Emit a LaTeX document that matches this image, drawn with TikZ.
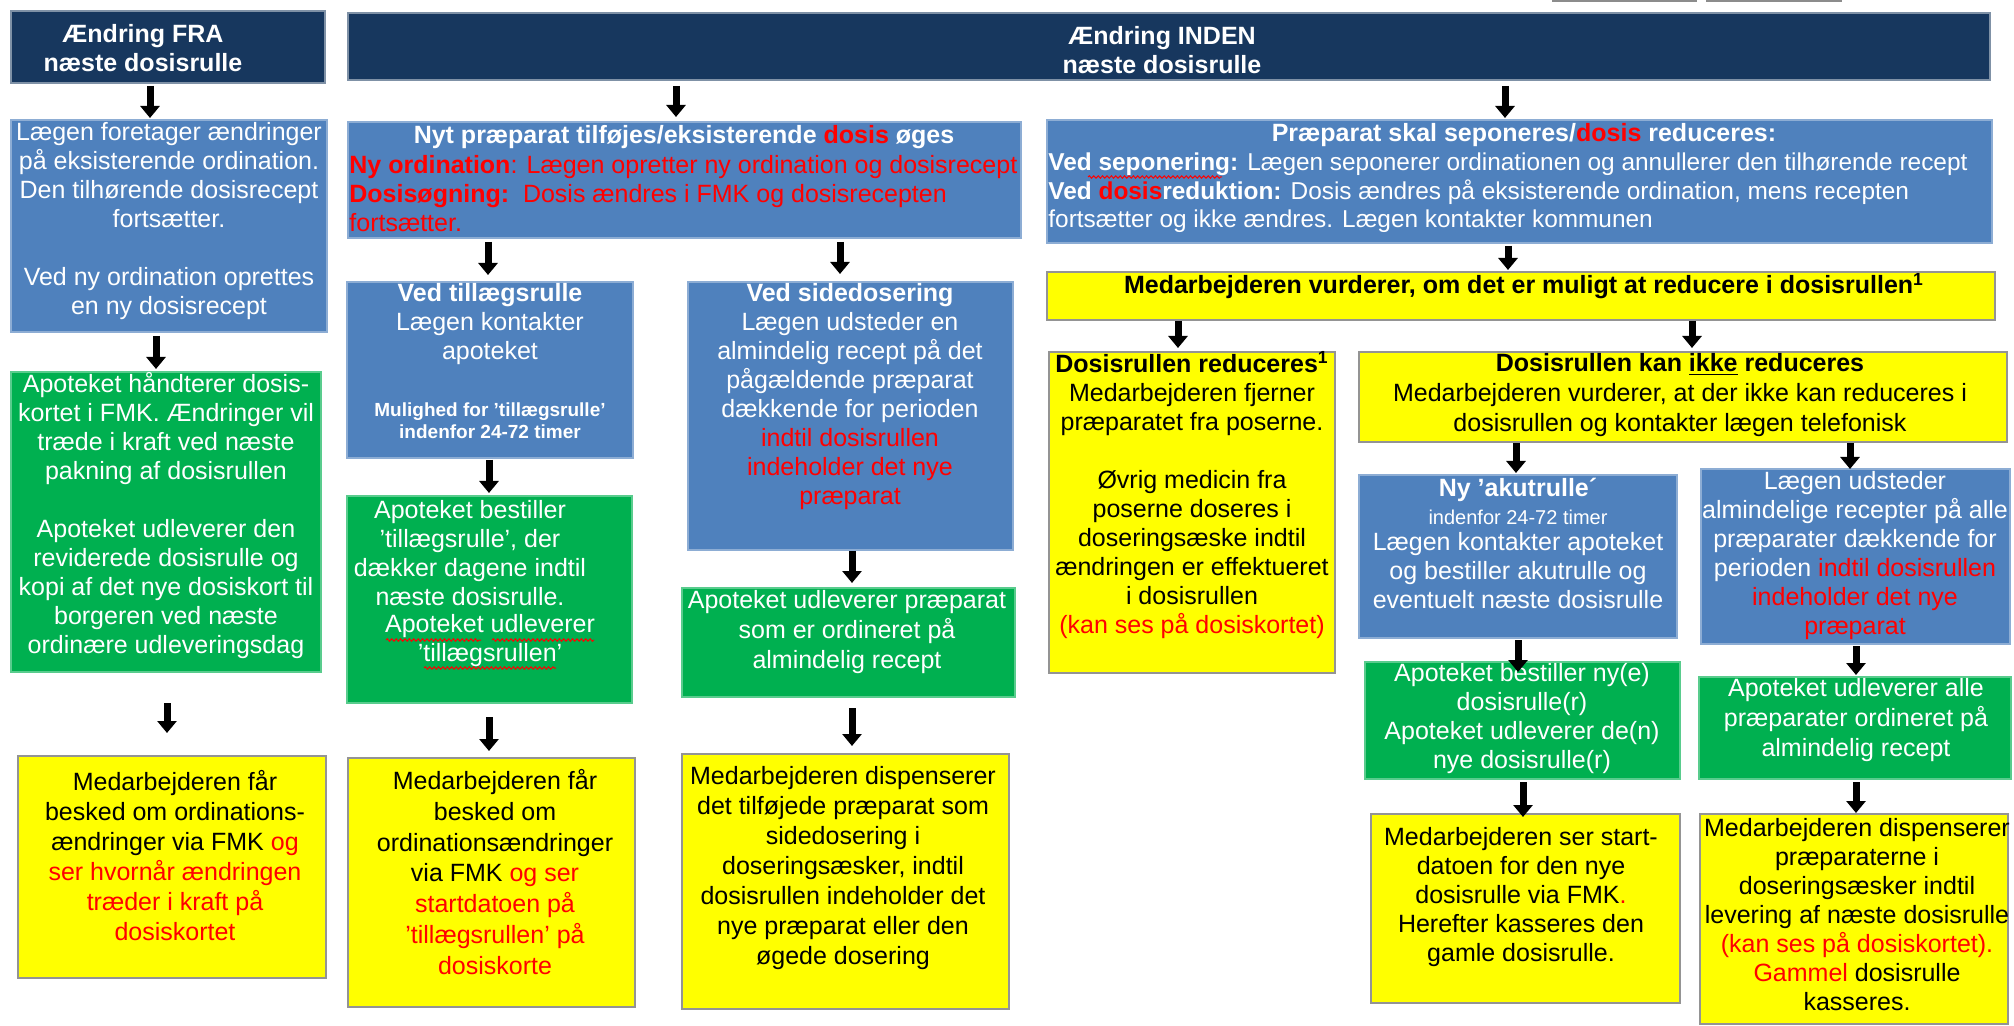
\documentclass[tikz,border=0pt]{standalone}
\usepackage{fontspec}
\setmainfont{Liberation Sans}
\usetikzlibrary{arrows.meta,fit,decorations.pathmorphing}
\definecolor{navy}{HTML}{17375E}
\definecolor{blu}{HTML}{4F81BD}
\definecolor{grn}{HTML}{00B050}
\definecolor{ylw}{HTML}{FFFF00}
\definecolor{rdd}{HTML}{FF0000}
\newcommand{\redt}[1]{\textcolor{rdd}{#1}}
\newcommand{\fsA}{\fontsize{12.5}{14.5}\selectfont}
\newcommand{\fsB}{\fontsize{12.5}{15}\selectfont}
\newcommand{\fsC}{\fontsize{12.5}{15.4}\selectfont}
\begin{document}
\begin{tikzpicture}[x=0.5pt,y=-0.5pt,
  box/.style={inner sep=0pt, outer sep=0pt},
  hdr/.style={box, fill=navy, draw=navy!55!white, line width=0.6pt},
  bbox/.style={box, fill=blu, draw=blu!65!white, line width=0.6pt},
  gbox/.style={box, fill=grn, draw=grn!65!white, line width=0.6pt},
  ybox/.style={box, fill=ylw, draw=black!42, line width=1pt},
  wt/.style={text=white, align=center, inner sep=0pt, font=\fsA},
  kt/.style={text=black, align=center, inner sep=0pt, font=\fsA},
  squig/.style={draw=rdd, line width=0.5pt, decorate, decoration={snake, amplitude=0.6pt, segment length=2.2pt}},
  arr/.style={draw=black, line width=3.5pt, -{Triangle[width=9.5pt,length=6pt]}}]
\useasboundingbox (0,0) rectangle (2014,1026);
\fill[white] (0,0) rectangle (2014,1026);
% partial boxes at top edge
\draw[black!45, line width=1pt, fill=white] (1553,-20) rectangle (1696,1);
\draw[black!45, line width=1pt, fill=white] (1707,-20) rectangle (1841,1);

% ---------- column FRA ----------
\node[hdr, fit={(11,11) (325,83)}] (fra) {};
\node[wt, font=\fsA\bfseries] (fra-t) at (143,48) {Ændring FRA\\næste dosisrulle};

\node[bbox, fit={(11,120) (327,332)}] (laegen) {};
\node[wt] (laegen-t) at (169,221) {Lægen foretager ændringer\\på eksisterende ordination.\\Den tilhørende dosisrecept\\fortsætter.\\[14.5pt]Ved ny ordination oprettes\\en ny dosisrecept};

\node[gbox, fit={(11,372) (321,672)}] (green1) {};
\node[wt] (green1-t) at (166,516) {Apoteket håndterer dosis-\\kortet i FMK. Ændringer vil\\træde i kraft ved næste\\pakning af dosisrullen\\[14.5pt]Apoteket udleverer den\\reviderede dosisrulle og\\kopi af det nye dosiskort til\\borgeren ved næste\\ordinære udleveringsdag};

\node[ybox, fit={(18,756) (326,978)}] (yellow1) {};
\node[kt, font=\fsB] (yellow1-t) at (175,856) {Medarbejderen får\\besked om ordinations-\\ændringer via FMK \redt{og}\\\redt{ser hvornår ændringen}\\\redt{træder i kraft på}\\\redt{dosiskortet}};

% ---------- header INDEN ----------
\node[hdr, fit={(348,13) (1990,80)}] (inden) {};
\node[wt, font=\fsA\bfseries] (inden-t) at (1162,50) {Ændring INDEN\\næste dosisrulle};

% ---------- column Nyt ----------
\node[bbox, fit={(348,122) (1021,238)}] (nyt) {};
\node[wt, font=\fsA\bfseries] (nyt-t1) at (684,137) {Nyt præparat tilføjes/eksisterende \redt{dosis} øges};
\node[wt, align=left, anchor=west, text=rdd] (nyt-t2) at (349,194) {\textbf{Ny ordination}: Lægen opretter ny ordination og dosisrecept\\\textbf{Dosisøgning:}\ \ Dosis ændres i FMK og dosisrecepten\\fortsætter.};

\node[bbox, fit={(347,282) (633,458)}] (tillaeg) {};
\node[wt] (tillaeg-t1) at (490,324) {\textbf{Ved tillægsrulle}\\Lægen kontakter\\apoteket};
\node[wt, font=\fontsize{9.5}{11}\selectfont\bfseries] (tillaeg-t2) at (490,421) {Mulighed for ’tillægsrulle’\\indenfor 24-72 timer};

\node[gbox, fit={(347,496) (632,703)}] (green2) {};
\node[wt] (green2-t1) at (470,553) {Apoteket bestiller\\’tillægsrulle’, der\\dækker dagene indtil\\næste dosisrulle.};
\node[wt] (green2-t2) at (490,641) {Apoteket udleverer\\’tillægsrullen’};

\node[ybox, fit={(348,758) (635,1007)}] (yellow2) {};
\node[kt, font=\fsC] (yellow2-t) at (495,872) {Medarbejderen får\\besked om\\ordinationsændringer\\via FMK \redt{og ser}\\\redt{startdatoen på}\\\redt{’tillægsrullen’ på}\\\redt{dosiskorte}};

\node[bbox, fit={(688,282) (1013,550)}] (sidedos) {};
\node[wt] (sidedos-t) at (850,397) {\textbf{Ved sidedosering}\\Lægen udsteder en\\almindelig recept på det\\pågældende præparat\\dækkende for perioden\\\redt{indtil dosisrullen}\\\redt{indeholder det nye}\\\redt{præparat}};

\node[gbox, fit={(682,588) (1015,697)}] (green3) {};
\node[wt, font=\fsB] (green3-t) at (847,632) {Apoteket udleverer præparat\\som er ordineret på\\almindelig recept};

\node[ybox, fit={(682,754) (1009,1009)}] (yellow3) {};
\node[kt, font=\fsB] (yellow3-t) at (843,868) {Medarbejderen dispenserer\\det tilføjede præparat som\\sidedosering i\\doseringsæsker, indtil\\dosisrullen indeholder det\\nye præparat eller den\\øgede dosering};

% ---------- column Præparat ----------
\node[bbox, fit={(1047,120) (1992,243)}] (praep) {};
\node[wt, font=\fsA\bfseries] (praep-t1) at (1524,135) {Præparat skal seponeres/\redt{dosis} reduceres:};
\node[wt, align=left, anchor=west, font=\fontsize{12.2}{14.3}\selectfont] (praep-t2) at (1048,193) {\textbf{Ved seponering:} Lægen seponerer ordinationen og annullerer den tilhørende recept\\\textbf{Ved \redt{dosis}reduktion:} Dosis ændres på eksisterende ordination, mens recepten\\fortsætter og ikke ændres. Lægen kontakter kommunen};

\node[ybox, fit={(1047,272) (1995,320)}] (medarb) {};
\node[kt, font=\fsA\bfseries] (medarb-t) at (1524,286) {Medarbejderen vurderer, om det er muligt at reducere i dosisrullen\textsuperscript{1}};

\node[ybox, fit={(1049,352) (1335,673)}] (dred) {};
\node[kt] (dred-t) at (1192,495) {\textbf{Dosisrullen reduceres\textsuperscript{1}}\\Medarbejderen fjerner\\præparatet fra poserne.\\[14.5pt]Øvrig medicin fra\\poserne doseres i\\doseringsæske indtil\\ændringen er effektueret\\i dosisrullen\\\redt{(kan ses på dosiskortet)}};

\node[ybox, fit={(1359,352) (2007,442)}] (kanikke) {};
\node[kt, font=\fsB] (kanikke-t) at (1680,395) {\textbf{Dosisrullen kan \underline{ikke} reduceres}\\Medarbejderen vurderer, at der ikke kan reduceres i\\dosisrullen og kontakter lægen telefonisk};

\node[bbox, fit={(1359,475) (1677,638)}] (akut) {};
\node[wt, font=\fsA\bfseries] (akut-t1) at (1518,490) {Ny ’akutrulle´};
\node[wt, font=\fontsize{10}{12}\selectfont] (akut-t2) at (1518,517) {indenfor 24-72 timer};
\node[wt] (akut-t3) at (1518,571) {Lægen kontakter apoteket\\og bestiller akutrulle og\\eventuelt næste dosisrulle};

\node[bbox, fit={(1701,469) (2010,644)}] (udst) {};
\node[wt] (udst-t) at (1855,556) {Lægen udsteder\\almindelige recepter på alle\\præparater dækkende for\\perioden \redt{indtil dosisrullen}\\\redt{indeholder det nye}\\\redt{præparat}};

\node[gbox, fit={(1365,662) (1680,779)}] (green4) {};
\node[wt] (green4-t) at (1522,719) {Apoteket bestiller ny(e)\\dosisrulle(r)\\Apoteket udleverer de(n)\\nye dosisrulle(r)};

\node[gbox, fit={(1699,677) (2011,779)}] (green5) {};
\node[wt, font=\fsB] (green5-t) at (1856,720) {Apoteket udleverer alle\\præparater ordineret på\\almindelig recept};

\node[ybox, fit={(1371,814) (1680,1003)}] (yellow4) {};
\node[kt] (yellow4-t) at (1521,897) {Medarbejderen ser start-\\datoen for den nye\\dosisrulle via FMK\redt{.}\\Herefter kasseres den\\gamle dosisrulle.};

\node[ybox, fit={(1700,814) (2008,1024)}] (yellow5) {};
\node[kt] (yellow5-t) at (1857,915) {Medarbejderen dispenserer\\præparaterne i\\doseringsæsker indtil\\levering af næste dosisrulle\\\redt{(kan ses på dosiskortet).}\\\redt{Gammel} dosisrulle\\kasseres.};

% spell-check squiggles shown in the picture
\draw[squig] (1088,177) -- (1222,177);
\draw[squig] (386,640) -- (481,640);
\draw[squig] (492,640) -- (594,640);
\draw[squig] (424,668) -- (556,668);

% ---------- arrows ----------
\draw[arr, shorten <=1.5pt, shorten >=1pt] (fra.south -| 150,0) -- (laegen.north -| 150,0);
\draw[arr, shorten <=2pt, shorten >=1.5pt] (laegen.south -| 156,0) -- (green1.north -| 156,0);
\draw[arr, shorten <=15.5pt, shorten >=11.5pt] (green1.south -| 167,0) -- (yellow1.north -| 167,0);

\draw[arr, shorten <=3pt, shorten >=2.5pt] (inden.south -| 676,0) -- (nyt.north -| 676,0);
\draw[arr, shorten <=3pt, shorten >=1pt] (inden.south -| 1505,0) -- (praep.north -| 1505,0);

\draw[arr, shorten <=2pt, shorten >=3.5pt] (nyt.south -| 488,0) -- (tillaeg.north -| 488,0);
\draw[arr, shorten <=2pt, shorten >=4pt] (nyt.south -| 840,0) -- (sidedos.north -| 840,0);
\draw[arr, shorten <=1pt, shorten >=1.5pt] (tillaeg.south -| 489,0) -- (green2.north -| 489,0);
\draw[arr, shorten <=7pt, shorten >=3.5pt] (green2.south -| 489,0) -- (yellow2.north -| 489,0);
\draw[arr, shorten <=0.5pt, shorten >=2.5pt] (sidedos.south -| 852,0) -- (green3.north -| 852,0);
\draw[arr, shorten <=5.5pt, shorten >=4pt] (green3.south -| 852,0) -- (yellow3.north -| 852,0);

\draw[arr, shorten <=1.5pt, shorten >=1pt] (praep.south -| 1508,0) -- (medarb.north -| 1508,0);
\draw[arr, shorten <=0.5pt, shorten >=2pt] (medarb.south -| 1178,0) -- (dred.north -| 1178,0);
\draw[arr, shorten <=0.5pt, shorten >=2pt] (medarb.south -| 1692,0) -- (kanikke.north -| 1692,0);
\draw[arr, shorten <=0.5pt, shorten >=1pt] (kanikke.south -| 1516,0) -- (akut.north -| 1516,0);
\draw[arr, shorten <=0.5pt, shorten >=0pt] (kanikke.south -| 1850,0) -- (udst.north -| 1850,0);
\draw[arr, shorten <=1pt, shorten >=-5pt] (akut.south -| 1518,0) -- (green4.north -| 1518,0);
\draw[arr, shorten <=1pt, shorten >=1pt] (udst.south -| 1856,0) -- (green5.north -| 1856,0);
\draw[arr, shorten <=1.5pt, shorten >=-1.5pt] (green4.south -| 1523,0) -- (yellow4.north -| 1523,0);
\draw[arr, shorten <=1.5pt, shorten >=0.5pt] (green5.south -| 1856,0) -- (yellow5.north -| 1856,0);
\end{tikzpicture}
\end{document}
